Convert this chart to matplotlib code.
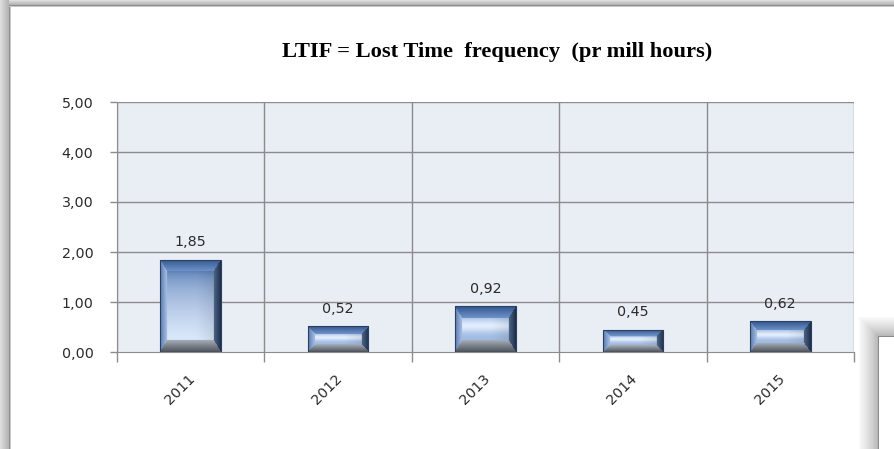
import numpy as np
import matplotlib
matplotlib.use("Agg")
import matplotlib.pyplot as plt
from matplotlib.colors import to_rgb

# ---- data ----
years = ["2011", "2012", "2013", "2014", "2015"]
ltif = [1.85, 0.52, 0.92, 0.45, 0.62]
value_labels = ["1,85", "0,52", "0,92", "0,45", "0,62"]
yticks = [0, 1, 2, 3, 4, 5]
ytick_labels = ["0,00", "1,00", "2,00", "3,00", "4,00", "5,00"]
title = "LTIF = Lost Time  frequency  (pr mill hours)"

W, H = 894, 449
DPI = 100
fig = plt.figure(figsize=(W / DPI, H / DPI), dpi=DPI)
fig.patch.set_facecolor("white")

LABEL_FONT = ["DejaVu Sans"]
LABEL_SIZE = 10.3
TXT = "#2b2b2b"

def px_ax(l, t, r, b):
    return [l / W, 1 - b / H, (r - l) / W, (b - t) / H]

ax = fig.add_axes(px_ax(117, 102, 854, 352))
ax.set_facecolor("#e9edf4")
x = np.arange(len(years))
ax.set_xlim(-0.5, len(years) - 0.5)
ax.set_ylim(0, 5)

bars = ax.bar(x, ltif, width=0.41, color="#7f9ccb", edgecolor="#2b3f5e",
              linewidth=0.8, zorder=3)

# grid
ax.set_yticks(yticks)
ax.set_yticklabels(ytick_labels)
for yv in yticks[1:]:
    ax.axhline(yv, color="#8c8c8c", lw=1.0, zorder=1)
for xb in np.arange(-0.5, len(years) + 0.5, 1.0):
    ax.axvline(xb, color="#8c8c8c", lw=1.0, zorder=1)
for s in ax.spines.values():
    s.set_visible(False)
ax.spines["left"].set_visible(True)
ax.spines["bottom"].set_visible(True)
ax.spines["left"].set_color("#8c8c8c")
ax.spines["bottom"].set_color("#8c8c8c")

ax.tick_params(axis="y", length=5, color="#8c8c8c", width=1, pad=12,
               labelsize=LABEL_SIZE, labelcolor=TXT)
ax.set_xticks(np.arange(-0.5, len(years) + 0.5, 1.0), minor=False)
ax.set_xticklabels([])
ax.tick_params(axis="x", length=7, color="#8c8c8c", width=1)
for lab in ax.get_yticklabels():
    lab.set_family(LABEL_FONT)

# year labels rotated
for xi, yr in zip(x, years):
    ax.annotate(yr, xy=(xi, 0), xycoords="data", xytext=(-2, -14),
                textcoords="offset points", rotation=45, ha="right", va="top",
                rotation_mode="anchor", fontsize=LABEL_SIZE, color=TXT,
                family=LABEL_FONT)

# value labels
for xi, v, lab in zip(x, ltif, value_labels):
    ax.annotate(lab, xy=(xi, v), xytext=(0, 7.5), textcoords="offset points",
                ha="center", va="bottom", fontsize=LABEL_SIZE, color=TXT,
                family=LABEL_FONT, zorder=5)

# bevel gradient on bars
fig.canvas.draw()
def lerp(c1, c2, t):
    c1 = np.array(to_rgb(c1)); c2 = np.array(to_rgb(c2))
    t = np.clip(t, 0, 1)[..., None]
    return c1 * (1 - t) + c2 * t

for b in bars:
    x0, y0 = b.get_x(), b.get_y()
    bw, bh = b.get_width(), b.get_height()
    p0 = ax.transData.transform((x0, y0))
    p1 = ax.transData.transform((x0 + bw, y0 + bh))
    wpx = max(int(round(p1[0] - p0[0])), 4)
    hpx = max(int(round(p1[1] - p0[1])), 4)
    bv = min(12.0, hpx * 0.3)
    bhz = 7.0
    jj, ii = np.meshgrid(np.arange(wpx) + 0.5, np.arange(hpx) + 0.5)
    dt = ii / bv
    db = (hpx - ii) / bv
    dl = jj / bhz
    dr = (wpx - jj) / bhz
    stack = np.stack([dt, db, dl, dr])
    which = np.argmin(stack, axis=0)
    mind = np.min(stack, axis=0)
    cy = np.clip((ii - bv) / max(hpx - 2 * bv, 1), 0, 1)
    if hpx > 60:
        center = lerp("#4f76b0", "#dce9fc", cy ** 0.5)
    else:
        band = np.exp(-((cy - 0.35) / 0.3) ** 2)
        center = lerp("#9fbbe3", "#e2edfd", band)
    cx = jj / wpx
    center = center * (1 - 0.12 * np.clip((cx - 0.6) / 0.4, 0, 1))[..., None]
    img = center.copy()
    top = lerp("#30558f", "#6f93c8", dt)
    bot = lerp("#4d525b", "#a7aeb8", db)
    left = lerp("#587aae", "#a8c0e4", dl)
    right = lerp("#1e2e48", "#4d6588", dr)
    inb = mind < 1
    for k, col in enumerate([top, bot, left, right]):
        m = inb & (which == k)
        img[m] = col[m]
    im = ax.imshow(img, extent=(x0, x0 + bw, y0, y0 + bh), origin="upper",
                   aspect="auto", zorder=4, interpolation="bilinear")
    im.set_clip_path(b)
    b.set_zorder(4.5)
    b.set_facecolor("none")
ax.set_xlim(-0.5, len(years) - 0.5)
ax.set_ylim(0, 5)

# title
fig.text(497 / W, 1 - 52 / H, title, ha="center", va="center",
         fontsize=16.2, fontweight="bold", family="Liberation Serif",
         color="black")

# window frame decoration (left and top shadow)
left_strip = np.ones((H, 11, 3))
lc = lerp("#dedede", "#b4b4b4", np.linspace(0, 1, 9))
left_strip[:, :9] = lc[None, :, :]
left_strip[:, 9] = to_rgb("#8e8e8e")
left_strip[:, 10] = to_rgb("#c8c8c8")
fig.figimage(left_strip, xo=0, yo=0, zorder=10)
top_strip = np.ones((7, W, 3))
tc = lerp("#dedede", "#b4b4b4", np.linspace(0, 1, 5))
top_strip[:5] = tc[:, None, :]
top_strip[5] = to_rgb("#8e8e8e")
top_strip[6] = to_rgb("#c8c8c8")
fig.figimage(top_strip, xo=9, yo=H - 7, zorder=10, origin="upper")

# overlapping window at bottom-right
bx, by = 879, 337
hh, ww = H - by + 20, W - bx + 22
yy, xx = np.mgrid[0:hh, 0:ww]
dx = np.clip(22 - xx, 0, None)
dy = np.clip(20 - yy, 0, None)
d = np.maximum(dx, dy)
sh = lerp("#a8a8a8", "#ffffff", (d / 22.0) ** 0.7)
sh[20:, 22:] = 1.0
sh[19:, 21] = to_rgb("#8a8a8a")
sh[19, 21:] = to_rgb("#8a8a8a")
fig.figimage(sh, xo=bx - 22, yo=0, zorder=11, origin="upper")

fig.savefig("out.png", dpi=DPI)
